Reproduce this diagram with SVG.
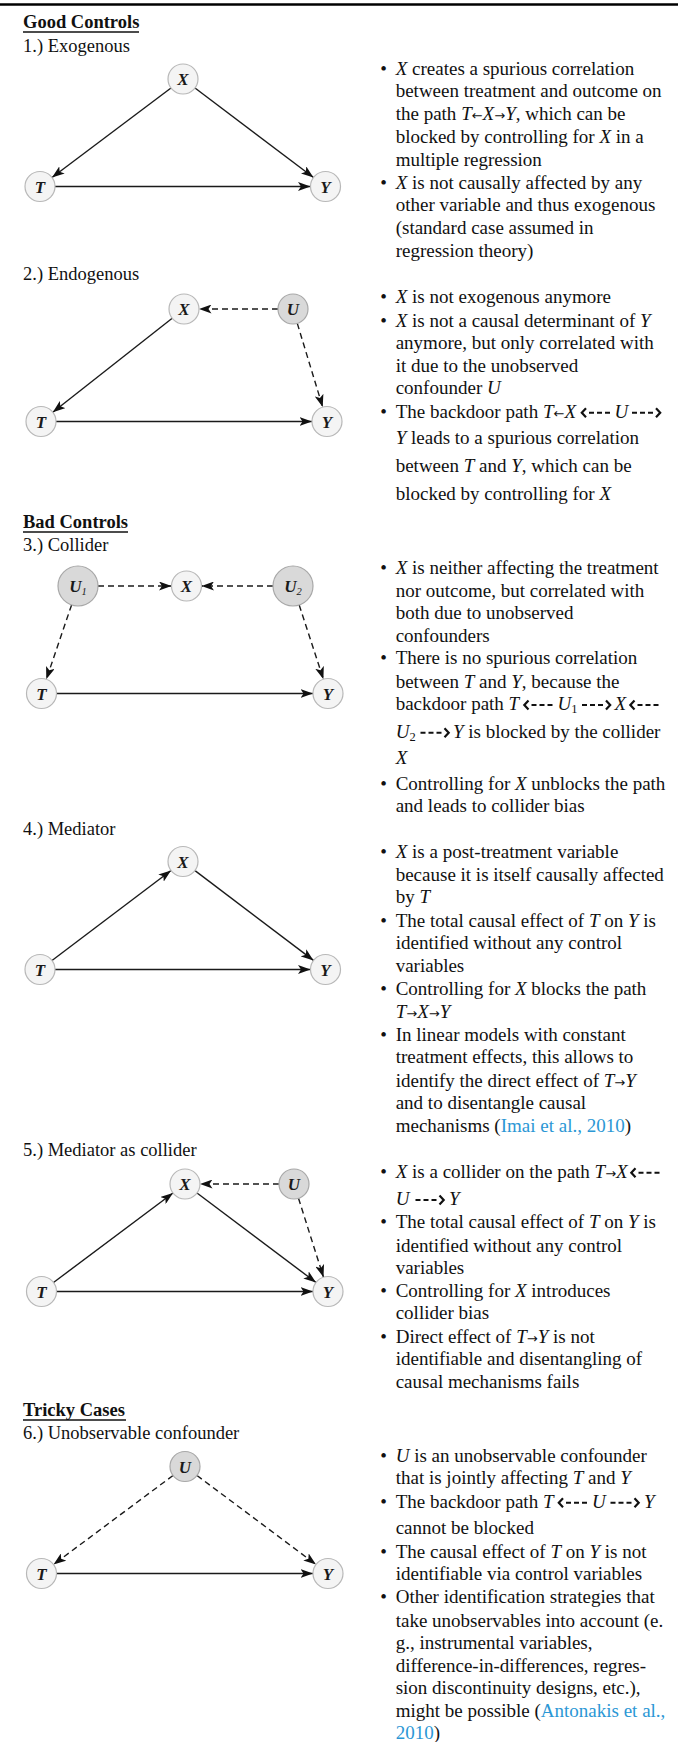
<svg xmlns="http://www.w3.org/2000/svg" xmlns:xlink="http://www.w3.org/1999/xlink" width="678" height="1742" viewBox="0 0 678 1742">
<style>
text{font-family:"Liberation Serif","Times New Roman",serif;fill:#111}
.t{font-size:19px}
.h2{font-size:18.5px}
.i{font-style:italic}
.ar{font-family:"DejaVu Sans",sans-serif;font-size:13px}
.hd{font-size:18.5px;font-weight:bold}
.lk{fill:#2b97d5}
.nd{fill:#f4f4f4;stroke:#b8b8b8;stroke-width:1.2}
.nu{fill:#d9d9d9;stroke:#a8a8a8;stroke-width:1.2}
.nl{font-size:17px;font-style:italic;font-weight:bold;text-anchor:middle;fill:#1a1a1a}
.ns{font-size:10.5px;font-weight:normal}
.e{fill:none;stroke:#1a1a1a;stroke-width:1.4;marker-end:url(#ah)}
.d{stroke-dasharray:6 4}
.ul{stroke:#111;stroke-width:1.5}
</style>
<defs>
<marker id="ah" markerUnits="userSpaceOnUse" markerWidth="14" markerHeight="9" refX="12.5" refY="4.5" orient="auto"><path d="M0,0 L12.5,4.5 L0,9 L3,4.5Z" fill="#111"/></marker>
<g id="la" fill="none" stroke="#111"><polyline points="5,-4.5 0.8,0 5,4.5" stroke-width="2.2"/><line x1="8" y1="0" x2="31" y2="0" stroke-width="2" stroke-dasharray="5 3"/></g>
<g id="ra" fill="none" stroke="#111"><line x1="2" y1="0" x2="25" y2="0" stroke-width="2" stroke-dasharray="5 3"/><polyline points="26,-4.5 30.2,0 26,4.5" stroke-width="2.2"/></g>
</defs>
<rect width="678" height="1742" fill="#fff"/>
<line x1="0" y1="4.5" x2="678" y2="4.5" stroke="#000" stroke-width="2.6"/>

<g id="headings">
<text class="hd" x="23" y="28">Good Controls</text>
<line class="ul" x1="23" y1="32" x2="139" y2="32"/>
<text class="h2" x="23" y="52">1.) Exogenous</text>
<text class="h2" x="23" y="280">2.) Endogenous</text>
<text class="hd" x="23" y="528">Bad Controls</text>
<line class="ul" x1="23" y1="532" x2="128" y2="532"/>
<text class="h2" x="23" y="551">3.) Collider</text>
<text class="h2" x="23" y="835">4.) Mediator</text>
<text class="h2" x="23" y="1156">5.) Mediator as collider</text>
<text class="hd" x="23" y="1416">Tricky Cases</text>
<line class="ul" x1="23" y1="1420" x2="126" y2="1420"/>
<text class="h2" x="23" y="1439">6.) Unobservable confounder</text>
</g>

<g id="connectors">
<line class="e" x1="171" y1="88" x2="52" y2="177.5"/>
<line class="e" x1="195" y1="88" x2="313.5" y2="177.5"/>
<line class="e" x1="55" y1="186.5" x2="310.5" y2="186.5"/>

<line class="e d" x1="278" y1="309" x2="199" y2="309"/>
<line class="e" x1="172.2" y1="318.3" x2="52.8" y2="412.2"/>
<line class="e d" x1="297.3" y1="323.4" x2="322.7" y2="407.1"/>
<line class="e" x1="56" y1="421.5" x2="312" y2="421.5"/>

<line class="e d" x1="98" y1="586" x2="171.5" y2="586"/>
<line class="e d" x1="273" y1="586" x2="201.5" y2="586"/>
<line class="e d" x1="71.6" y1="604.9" x2="46.3" y2="679.3"/>
<line class="e d" x1="299.2" y1="605" x2="323.4" y2="679.2"/>
<line class="e" x1="56.5" y1="693.5" x2="313" y2="693.5"/>

<line class="e" x1="52" y1="960.5" x2="171" y2="870.5"/>
<line class="e" x1="195" y1="870.6" x2="313.5" y2="960.4"/>
<line class="e" x1="55" y1="969.5" x2="310.5" y2="969.5"/>

<line class="e" x1="53.5" y1="1282.5" x2="173" y2="1193"/>
<line class="e" x1="197" y1="1193" x2="316" y2="1282.5"/>
<line class="e d" x1="279" y1="1184" x2="200" y2="1184"/>
<line class="e d" x1="298.5" y1="1198.3" x2="323.5" y2="1277.2"/>
<line class="e" x1="56.5" y1="1291.5" x2="313" y2="1291.5"/>

<line class="e d" x1="173" y1="1475.5" x2="53.5" y2="1564.5"/>
<line class="e d" x1="197" y1="1475.5" x2="316" y2="1564.5"/>
<line class="e" x1="56.5" y1="1573.5" x2="313" y2="1573.5"/>
</g>

<g id="d1-x"><circle class="nd" cx="183" cy="79" r="15"/><text class="nl" x="183" y="85">X</text></g>
<g id="d1-t"><circle class="nd" cx="40" cy="186.5" r="15"/><text class="nl" x="40" y="192.5">T</text></g>
<g id="d1-y"><circle class="nd" cx="325.5" cy="186.5" r="15"/><text class="nl" x="325.5" y="192.5">Y</text></g>

<g id="d2-x"><circle class="nd" cx="184" cy="309" r="15"/><text class="nl" x="184" y="315">X</text></g>
<g id="d2-u"><circle class="nu" cx="293" cy="309" r="15"/><text class="nl" x="293" y="315">U</text></g>
<g id="d2-t"><circle class="nd" cx="41" cy="421.5" r="15"/><text class="nl" x="41" y="427.5">T</text></g>
<g id="d2-y"><circle class="nd" cx="327" cy="421.5" r="15"/><text class="nl" x="327" y="427.5">Y</text></g>

<g id="d3-u1"><circle class="nu" cx="78" cy="586" r="20"/><text class="nl" x="78" y="592">U<tspan class="ns" dy="3">1</tspan></text></g>
<g id="d3-x"><circle class="nd" cx="186.5" cy="586" r="15"/><text class="nl" x="186.5" y="592">X</text></g>
<g id="d3-u2"><circle class="nu" cx="293" cy="586" r="20"/><text class="nl" x="293" y="592">U<tspan class="ns" dy="3">2</tspan></text></g>
<g id="d3-t"><circle class="nd" cx="41.5" cy="693.5" r="15"/><text class="nl" x="41.5" y="699.5">T</text></g>
<g id="d3-y"><circle class="nd" cx="328" cy="693.5" r="15"/><text class="nl" x="328" y="699.5">Y</text></g>

<g id="d4-x"><circle class="nd" cx="183" cy="861.5" r="15"/><text class="nl" x="183" y="867.5">X</text></g>
<g id="d4-t"><circle class="nd" cx="40" cy="969.5" r="15"/><text class="nl" x="40" y="975.5">T</text></g>
<g id="d4-y"><circle class="nd" cx="325.5" cy="969.5" r="15"/><text class="nl" x="325.5" y="975.5">Y</text></g>

<g id="d5-x"><circle class="nd" cx="185" cy="1184" r="15"/><text class="nl" x="185" y="1190">X</text></g>
<g id="d5-u"><circle class="nu" cx="294" cy="1184" r="15"/><text class="nl" x="294" y="1190">U</text></g>
<g id="d5-t"><circle class="nd" cx="41.5" cy="1291.5" r="15"/><text class="nl" x="41.5" y="1297.5">T</text></g>
<g id="d5-y"><circle class="nd" cx="328" cy="1291.5" r="15"/><text class="nl" x="328" y="1297.5">Y</text></g>

<g id="d6-u"><circle class="nu" cx="185" cy="1466.5" r="15"/><text class="nl" x="185" y="1472.5">U</text></g>
<g id="d6-t"><circle class="nd" cx="41.5" cy="1573.5" r="15"/><text class="nl" x="41.5" y="1579.5">T</text></g>
<g id="d6-y"><circle class="nd" cx="328" cy="1573.5" r="15"/><text class="nl" x="328" y="1579.5">Y</text></g>

<g id="notes1">
<text class="t" x="380.3" y="74.5">•</text>
<text class="t" x="395.7" y="74.5"><tspan class="i">X</tspan> creates a spurious correlation</text>
<text class="t" x="395.7" y="97.3">between treatment and outcome on</text>
<text class="t" x="395.7" y="120">the path <tspan class="i">T</tspan><tspan class="ar">←</tspan><tspan class="i">X</tspan><tspan class="ar">→</tspan><tspan class="i">Y</tspan>, which can be</text>
<text class="t" x="395.7" y="143">blocked by controlling for <tspan class="i">X</tspan> in a</text>
<text class="t" x="395.7" y="165.7">multiple regression</text>
<text class="t" x="380.3" y="188.5">•</text>
<text class="t" x="395.7" y="188.5"><tspan class="i">X</tspan> is not causally affected by any</text>
<text class="t" x="395.7" y="211.3">other variable and thus exogenous</text>
<text class="t" x="395.7" y="234">(standard case assumed in</text>
<text class="t" x="395.7" y="257">regression theory)</text>
</g>

<g id="notes2">
<text class="t" x="380.3" y="303.3">•</text>
<text class="t" x="395.7" y="303.3"><tspan class="i">X</tspan> is not exogenous anymore</text>
<text class="t" x="380.3" y="326.7">•</text>
<text class="t" x="395.7" y="326.7"><tspan class="i">X</tspan> is not a causal determinant of <tspan class="i">Y</tspan></text>
<text class="t" x="395.7" y="349">anymore, but only correlated with</text>
<text class="t" x="395.7" y="371.7">it due to the unobserved</text>
<text class="t" x="395.7" y="394">confounder <tspan class="i">U</tspan></text>
<text class="t" x="380.3" y="417.7">•</text>
<text class="t" x="395.7" y="417.7">The backdoor path <tspan class="i">T</tspan><tspan class="ar">←</tspan><tspan class="i">X</tspan></text>
<use xlink:href="#la" x="581" y="412.7"/>
<text class="t i" x="614.5" y="417.7">U</text>
<use xlink:href="#ra" x="630" y="412.7"/>
<text class="t" x="395.7" y="444.3"><tspan class="i">Y</tspan> leads to a spurious correlation</text>
<text class="t" x="395.7" y="472.3">between <tspan class="i">T</tspan> and <tspan class="i">Y</tspan>, which can be</text>
<text class="t" x="395.7" y="500">blocked by controlling for <tspan class="i">X</tspan></text>
</g>

<g id="notes3">
<text class="t" x="380.3" y="574.3">•</text>
<text class="t" x="395.7" y="574.3"><tspan class="i">X</tspan> is neither affecting the treatment</text>
<text class="t" x="395.7" y="596.7">nor outcome, but correlated with</text>
<text class="t" x="395.7" y="619.3">both due to unobserved</text>
<text class="t" x="395.7" y="641.7">confounders</text>
<text class="t" x="380.3" y="664.3">•</text>
<text class="t" x="395.7" y="664.3">There is no spurious correlation</text>
<text class="t" x="395.7" y="687.7">between <tspan class="i">T</tspan> and <tspan class="i">Y</tspan>, because the</text>
<text class="t" x="395.7" y="710">backdoor path <tspan class="i">T</tspan></text>
<use xlink:href="#la" x="523.5" y="705"/>
<text class="t" x="557.5" y="710"><tspan class="i">U</tspan><tspan font-size="12.5" dy="3">1</tspan></text>
<use xlink:href="#ra" x="580" y="705"/>
<text class="t i" x="614.5" y="710">X</text>
<use xlink:href="#la" x="629.5" y="705"/>
<text class="t" x="395.7" y="737.7"><tspan class="i">U</tspan><tspan font-size="12.5" dy="3">2</tspan></text>
<use xlink:href="#ra" x="418.5" y="732.7"/>
<text class="t" x="453" y="737.7"><tspan class="i">Y</tspan> is blocked by the collider</text>
<text class="t i" x="395.7" y="764.3">X</text>
<text class="t" x="380.3" y="790">•</text>
<text class="t" x="395.7" y="790">Controlling for <tspan class="i">X</tspan> unblocks the path</text>
<text class="t" x="395.7" y="812.3">and leads to collider bias</text>
</g>

<g id="notes4">
<text class="t" x="380.3" y="857.7">•</text>
<text class="t" x="395.7" y="857.7"><tspan class="i">X</tspan> is a post-treatment variable</text>
<text class="t" x="395.7" y="881">because it is itself causally affected</text>
<text class="t" x="395.7" y="903.3">by <tspan class="i">T</tspan></text>
<text class="t" x="380.3" y="926.7">•</text>
<text class="t" x="395.7" y="926.7">The total causal effect of <tspan class="i">T</tspan> on <tspan class="i">Y</tspan> is</text>
<text class="t" x="395.7" y="949">identified without any control</text>
<text class="t" x="395.7" y="971.7">variables</text>
<text class="t" x="380.3" y="995">•</text>
<text class="t" x="395.7" y="995">Controlling for <tspan class="i">X</tspan> blocks the path</text>
<text class="t" x="395.7" y="1017.7"><tspan class="i">T</tspan><tspan class="ar">→</tspan><tspan class="i">X</tspan><tspan class="ar">→</tspan><tspan class="i">Y</tspan></text>
<text class="t" x="380.3" y="1040.7">•</text>
<text class="t" x="395.7" y="1040.7">In linear models with constant</text>
<text class="t" x="395.7" y="1063.3">treatment effects, this allows to</text>
<text class="t" x="395.7" y="1086.7">identify the direct effect of <tspan class="i">T</tspan><tspan class="ar">→</tspan><tspan class="i">Y</tspan></text>
<text class="t" x="395.7" y="1109">and to disentangle causal</text>
<text class="t" x="395.7" y="1131.7">mechanisms (<tspan class="lk">Imai et al., 2010</tspan>)</text>
</g>

<g id="notes5">
<text class="t" x="380.3" y="1177.7">•</text>
<text class="t" x="395.7" y="1177.7"><tspan class="i">X</tspan> is a collider on the path <tspan class="i">T</tspan><tspan class="ar">→</tspan><tspan class="i">X</tspan></text>
<use xlink:href="#la" x="630.5" y="1172.7"/>
<text class="t i" x="395.7" y="1205">U</text>
<use xlink:href="#ra" x="413.5" y="1200"/>
<text class="t i" x="449" y="1205">Y</text>
<text class="t" x="380.3" y="1228.3">•</text>
<text class="t" x="395.7" y="1228.3">The total causal effect of <tspan class="i">T</tspan> on <tspan class="i">Y</tspan> is</text>
<text class="t" x="395.7" y="1251.7">identified without any control</text>
<text class="t" x="395.7" y="1274.3">variables</text>
<text class="t" x="380.3" y="1296.7">•</text>
<text class="t" x="395.7" y="1296.7">Controlling for <tspan class="i">X</tspan> introduces</text>
<text class="t" x="395.7" y="1319">collider bias</text>
<text class="t" x="380.3" y="1342.7">•</text>
<text class="t" x="395.7" y="1342.7">Direct effect of <tspan class="i">T</tspan><tspan class="ar">→</tspan><tspan class="i">Y</tspan> is not</text>
<text class="t" x="395.7" y="1365">identifiable and disentangling of</text>
<text class="t" x="395.7" y="1387.7">causal mechanisms fails</text>
</g>

<g id="notes6">
<text class="t" x="380.3" y="1461.7">•</text>
<text class="t" x="395.7" y="1461.7"><tspan class="i">U</tspan> is an unobservable confounder</text>
<text class="t" x="395.7" y="1484.3">that is jointly affecting <tspan class="i">T</tspan> and <tspan class="i">Y</tspan></text>
<text class="t" x="380.3" y="1507.7">•</text>
<text class="t" x="395.7" y="1507.7">The backdoor path <tspan class="i">T</tspan></text>
<use xlink:href="#la" x="558" y="1502.7"/>
<text class="t i" x="592" y="1507.7">U</text>
<use xlink:href="#ra" x="608.5" y="1502.7"/>
<text class="t i" x="644" y="1507.7">Y</text>
<text class="t" x="395.7" y="1534.3">cannot be blocked</text>
<text class="t" x="380.3" y="1557.7">•</text>
<text class="t" x="395.7" y="1557.7">The causal effect of <tspan class="i">T</tspan> on <tspan class="i">Y</tspan> is not</text>
<text class="t" x="395.7" y="1580">identifiable via control variables</text>
<text class="t" x="380.3" y="1603.3">•</text>
<text class="t" x="395.7" y="1603.3">Other identification strategies that</text>
<text class="t" x="395.7" y="1626.7">take unobservables into account (e.</text>
<text class="t" x="395.7" y="1649.3">g., instrumental variables,</text>
<text class="t" x="395.7" y="1671.7">difference-in-differences, regres-</text>
<text class="t" x="395.7" y="1694.3">sion discontinuity designs, etc.),</text>
<text class="t" x="395.7" y="1717.3">might be possible (<tspan class="lk">Antonakis et al.,</tspan></text>
<text class="t" x="395.7" y="1739.3"><tspan class="lk">2010</tspan>)</text>
</g>
</svg>
